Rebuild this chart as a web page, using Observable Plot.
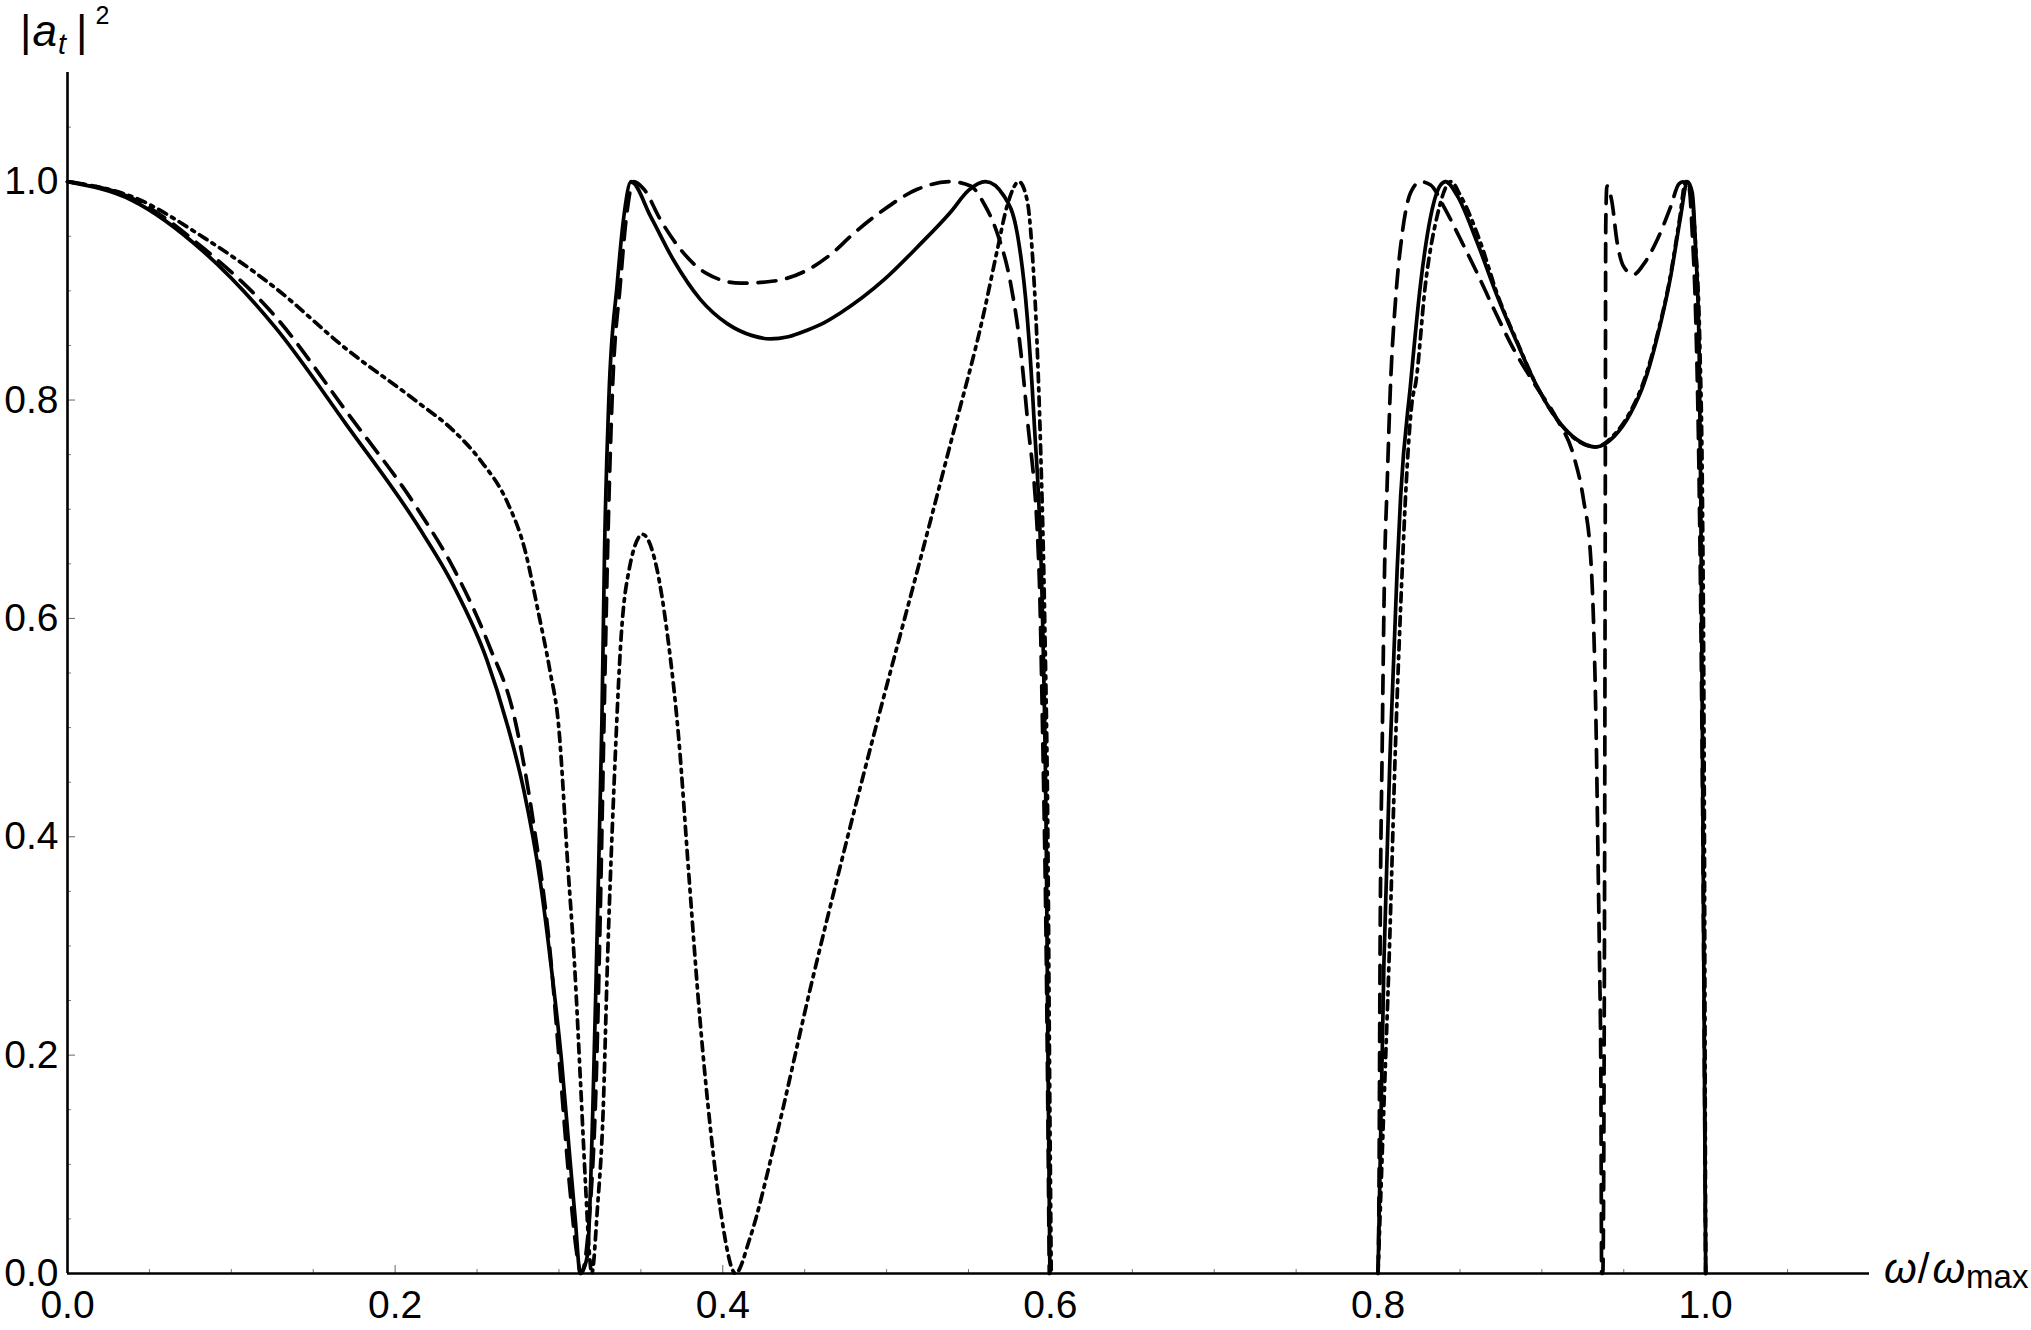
<!DOCTYPE html>
<html><head><meta charset="utf-8">
<script src="https://cdn.jsdelivr.net/npm/d3@7"></script>
<script src="https://cdn.jsdelivr.net/npm/@observablehq/plot@0.6"></script>
<style>
html,body{margin:0;padding:0;background:#fff;overflow:hidden}
#chart{position:relative;width:2031px;height:1330px}
</style></head><body><div id="chart"></div>
<script>
// Series values: [omega/omega_max, |a_t|^2]; null marks a gap (curve lies on the axis)
const solidPts = [
  [0,1.0],[0.0393,0.983],[0.083,0.936],[0.1266,0.867],[0.170,0.778],[0.2138,0.685],[0.2356,0.630],
  [0.2560,0.562],[0.2680,0.505],[0.2785,0.443],[0.2885,0.360],[0.2955,0.278],[0.3015,0.196],[0.3062,0.114],
  [0.3100,0.0486],[0.3130,0.0],[0.3173,0.016],[0.3206,0.147],[0.3228,0.278],[0.3248,0.41],[0.3262,0.505],
  [0.3278,0.66],[0.3305,0.803],[0.3356,0.907],[0.3396,0.968],[0.344,1.0],[0.356,0.968],[0.370,0.928],
  [0.3864,0.892],[0.4027,0.870],[0.418,0.859],[0.429,0.856],[0.44,0.858],[0.4515,0.864],[0.462,0.871],
  [0.472,0.880],[0.4983,0.910],[0.5187,0.940],
  [0.539,0.972],[0.55,0.992],[0.5604,1.0],[0.5716,0.987],[0.5797,0.953],[0.5858,0.877],[0.5899,0.785],[0.5953,0.594],
  [0.5975,0.389],[0.5986,0.183],[0.5997,0.0],[0.7,null],[0.8,0.0],[0.8036,0.2855],[0.8077,0.491],[0.8117,0.646],
  [0.8138,0.712],[0.8199,0.8155],[0.826,0.907],[0.8321,0.968],[0.8382,0.997],[0.8413,1.0],[0.8484,0.987],
  [0.8606,0.944],[0.8728,0.895],[0.885,0.852],[0.8972,0.812],[0.9094,0.782],[0.9216,0.7635],[0.9328,0.757],
  [0.944,0.7665],[0.9542,0.788],[0.9624,0.8155],[0.9705,0.858],[0.9786,0.913],[0.9847,0.968],[0.9888,1.0],
  [0.9918,0.990],[0.9939,0.938],[0.996,0.846],[0.997,0.712],[0.998,0.491],[1.0,0.0]
];
const dashedPts = [
  [0,1.0],[0.0393,0.985],[0.083,0.939],[0.1266,0.877],[0.170,0.790],[0.2138,0.700],[0.2356,0.646],
  [0.2574,0.575],[0.2727,0.510],[0.2845,0.412],[0.2945,0.296],[0.301,0.180],[0.3064,0.082],[0.3119,0.009],
  [0.3135,0.0],[0.3184,0.0486],[0.3228,0.180],[0.3254,0.343],[0.3275,0.505],[0.3300,0.68],[0.3325,0.803],
  [0.3375,0.907],[0.3412,0.968],[0.3455,1.0],[0.3519,0.993],[0.362,0.965],[0.3742,0.938],[0.390,0.916],
  [0.411,0.907],[0.4312,0.909],[0.4515,0.919],[0.468,0.936],[0.478,0.950],[0.498,0.974],[0.5187,0.993],
  [0.539,1.0],[0.5513,0.996],[0.5594,0.980],[0.5675,0.953],[0.5757,0.907],[0.5818,0.846],[0.5858,0.785],
  [0.593,0.646],[0.5953,0.491],[0.5975,0.286],[0.5993,0.0],[0.7,null],[0.8,0.0],[0.8006,0.08],[0.8012,0.285],
  [0.8026,0.491],[0.804,0.646],[0.8055,0.72],[0.8075,0.81],[0.8107,0.892],[0.8148,0.953],[0.8199,0.990],
  [0.826,1.0],[0.8321,0.997],[0.8402,0.977],[0.8504,0.947],[0.8606,0.916],[0.8708,0.883],[0.883,0.846],
  [0.8952,0.8155],[0.9094,0.782],[0.9194,0.749],[0.9255,0.708],[0.9298,0.656],[0.9316,0.594],[0.9332,0.491],
  [0.9342,0.388],[0.9352,0.2855],[0.936,0.183],[0.9365,0.0],[0.9372,0.0],[0.9382,0.3],[0.9387,0.7],
  [0.939,0.96],[0.9397,0.996],[0.9426,0.983],[0.946,0.944],[0.950,0.922],[0.956,0.915],[0.9624,0.925],
  [0.9705,0.947],[0.9786,0.977],[0.9837,0.998],[0.9868,1.0],[0.9898,0.995],[0.9918,0.953],[0.9939,0.877],
  [0.996,0.724],[0.998,0.45],[1.0,0.0]
];
const dashdotPts = [
  [0,1.0],[0.04,0.986],[0.083,0.949],[0.1266,0.903],[0.170,0.847],[0.2138,0.798],[0.2356,0.772],
  [0.253,0.743],[0.2683,0.707],[0.279,0.664],[0.2879,0.602],[0.2944,0.553],[0.2999,0.50],[0.3053,0.376],
  [0.3097,0.278],[0.313,0.180],[0.3162,0.082],[0.3184,0.022],[0.320,0.0],[0.3235,0.06],[0.327,0.15],
  [0.3295,0.28],[0.3337,0.45],[0.338,0.584],[0.343,0.646],[0.351,0.677],[0.3597,0.646],[0.3663,0.584],
  [0.373,0.492],[0.3794,0.363],[0.386,0.234],[0.3926,0.131],[0.399,0.054],[0.4078,0.0],[0.4165,0.032],
  [0.4318,0.120],[0.4536,0.262],[0.4754,0.395],[0.4972,0.522],[0.519,0.645],[0.539,0.760],
  [0.5594,0.880],[0.5675,0.937],[0.5736,0.978],[0.5808,1.0],[0.5858,0.983],[0.5888,0.938],[0.592,0.846],
  [0.594,0.757],[0.5965,0.6],[0.5985,0.389],[0.5995,0.183],[0.6005,0.0],[0.7,null],[0.8,0.0],[0.8035,0.15],
  [0.8067,0.2855],[0.8108,0.491],[0.8148,0.646],[0.8168,0.712],[0.8209,0.8],[0.823,0.8155],[0.829,0.907],
  [0.836,0.968],[0.8445,1.0],[0.8504,0.987],[0.8626,0.944],[0.8728,0.897],[0.885,0.853],[0.8972,0.812],
  [0.9094,0.782],[0.9216,0.763],[0.9328,0.757],[0.944,0.768],[0.9542,0.79],[0.9624,0.818],[0.9705,0.86],
  [0.9786,0.915],[0.984,0.965],[0.9878,1.0],[0.9912,0.99],[0.9939,0.94],[0.9965,0.846],[0.998,0.712],
  [0.999,0.491],[1.0,0.0]
];
const xMajorTicks = [0, 0.2, 0.4, 0.6, 0.8, 1.0];
const xMinorTicks = [0.05,0.1,0.15,0.25,0.3,0.35,0.45,0.5,0.55,0.65,0.7,0.75,0.85,0.9,0.95,1.05];
const yMajorTicks = [0, 0.2, 0.4, 0.6, 0.8, 1.0];
const yMinorTicks = [0.05,0.1,0.15,0.25,0.3,0.35,0.45,0.5,0.55,0.65,0.7,0.75,0.85,0.9,0.95,1.05];

const rows = pts => pts.map(([x, y]) => ({x, y}));
const FONT = "'Liberation Sans', Arial, Helvetica, sans-serif";
const LW = 3.7;

const plot = Plot.plot({
  width: 2031, height: 1330,
  marginTop: 72, marginLeft: 67, marginRight: 162, marginBottom: 57,
  x: {domain: [0, 1.1], label: null},
  y: {domain: [0, 1.1], label: null},
  style: {fontFamily: FONT, background: "#fff", color: "#000"},
  marks: [
    Plot.axisX(xMinorTicks, {anchor: "bottom", tickSize: -4, tickFormat: () => "", stroke: "#777", label: null}),
    Plot.axisX(xMajorTicks, {anchor: "bottom", tickSize: -8, tickPadding: 25, tickFormat: d => d.toFixed(1), fontSize: 39, stroke: "#666", label: null}),
    Plot.axisY(yMinorTicks, {anchor: "left", tickSize: -4, tickFormat: () => "", stroke: "#777", label: null}),
    Plot.axisY(yMajorTicks, {anchor: "left", tickSize: -8, tickPadding: 17, tickFormat: d => d.toFixed(1), fontSize: 39, stroke: "#666", label: null}),
    Plot.line(rows(dashdotPts), {x: "x", y: "y", stroke: "#000", strokeWidth: LW, strokeDasharray: "9,6,3,6", curve: "monotone-x"}),
    Plot.line(rows(dashedPts), {x: "x", y: "y", stroke: "#000", strokeWidth: LW, strokeDasharray: "18,11", curve: "monotone-x"}),
    Plot.line(rows(solidPts), {x: "x", y: "y", stroke: "#000", strokeWidth: LW, curve: "monotone-x"}),
    Plot.ruleY([0], {stroke: "#000", strokeWidth: 2.6}),
    Plot.ruleX([0], {stroke: "#000", strokeWidth: 2.6})
  ]
});
document.getElementById("chart").appendChild(plot);

// Axis labels (rich text with sub/superscripts), built as one text element each
const svg = d3.select(plot);
function label(x, y, parts) {
  const txt = svg.append("text").attr("x", x).attr("y", y)
    .attr("text-anchor", "start")
    .attr("font-family", FONT).attr("fill", "#000");
  for (const p of parts) {
    const ts = txt.append("tspan").text(p.s).attr("font-size", p.size)
      .attr("font-style", p.italic ? "italic" : "normal");
    if (p.dx) ts.attr("dx", p.dx);
    if (p.dy) ts.attr("dy", p.dy);
  }
}
// |a_t|^2
label(20, 46, [
  {s: "|", size: 44},
  {s: "a", size: 44, italic: true, dx: 1},
  {s: "t", size: 29, italic: true, dy: 8, dx: 1},
  {s: "|", size: 44, dy: -8, dx: 10},
  {s: "2", size: 25, dy: -22, dx: 8}
]);
// ω/ω_max
label(1884, 1283, [
  {s: "ω", size: 42, italic: true},
  {s: "/", size: 42, dx: 1},
  {s: "ω", size: 42, italic: true, dx: 3},
  {s: "max", size: 33, dy: 5, dx: 1}
]);
</script></body></html>
